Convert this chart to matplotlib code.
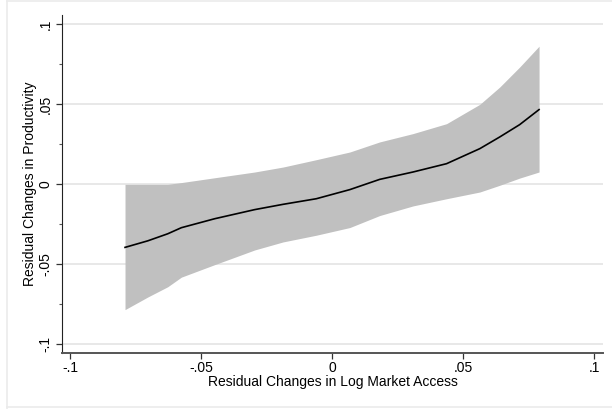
import matplotlib.pyplot as plt
from matplotlib.lines import Line2D
from matplotlib.ticker import MultipleLocator

plt.rcParams["font.family"] = ["Liberation Sans", "DejaVu Sans"]

# local linear fit of productivity on market access, with 95% band
x = [-0.079, -0.0703, -0.0627, -0.0575, -0.0448, -0.0295, -0.0187, -0.006,
     0.0068, 0.0182, 0.0309, 0.0437, 0.0564, 0.064, 0.0716, 0.079]
fit = [-0.0394, -0.0353, -0.0309, -0.0271, -0.0215, -0.0158, -0.0125, -0.009,
       -0.0033, 0.0031, 0.0077, 0.0129, 0.0223, 0.0296, 0.0373, 0.0467]
upper = [0.0, 0.0, 0.0, 0.0011, 0.0041, 0.0077, 0.0108, 0.0154,
         0.0202, 0.0265, 0.0317, 0.0379, 0.05, 0.0608, 0.0733, 0.0863]
lower = [-0.0783, -0.0704, -0.064, -0.058, -0.0502, -0.041, -0.036, -0.0318,
         -0.027, -0.0195, -0.0135, -0.009, -0.0048, -0.0006, 0.0039, 0.0077]

xticks = [-0.1, -0.05, 0, 0.05, 0.1]
xticklabels = ["-.1", "-.05", "0", ".05", ".1"]
yticks = [-0.1, -0.05, 0, 0.05, 0.1]
yticklabels = ["-.1", "-.05", "0", ".05", ".1"]

fig = plt.figure(figsize=(6.12, 4.09), dpi=100)
ax = fig.add_axes([0.1013, 0.1369, 0.884, 0.8264])

ax.fill_between(x, lower, upper, color="#c0c0c0", lw=0, zorder=2)
ax.plot(x, fit, color="black", lw=1.2, zorder=3)

ax.set_xlim(-0.10305, 0.1034)
ax.set_ylim(-0.1054, 0.1058)
ax.set_xticks(xticks)
ax.set_xticklabels(xticklabels)
ax.set_yticks(yticks)
ax.set_yticklabels(yticklabels, rotation=90, va="center")
ax.yaxis.set_minor_locator(MultipleLocator(0.025))

ax.grid(axis="y", color="#e8e8e8", lw=1.4, zorder=0)
ax.set_axisbelow(True)
for side in ("top", "right"):
    ax.spines[side].set_visible(False)
ax.spines["left"].set_color("#222222")
ax.spines["bottom"].set_color("#555555")
ax.spines["bottom"].set_linewidth(1.4)
ax.tick_params(axis="both", which="major", length=4, width=0.9,
               labelsize=10, pad=3, color="#333333")
ax.tick_params(axis="x", which="major", pad=2)
ax.tick_params(axis="y", which="minor", length=2.5, width=0.8, color="#555555")

ax.set_xlabel("Residual Changes in Log Market Access", fontsize=10, labelpad=0)
ax.set_ylabel("Residual Changes in Productivity", fontsize=10, labelpad=1)

# light outer frame of the graph region
for xs, ys in (([0.0114, 0.0114], [0.0, 0.998]), ([0.0114, 1.0], [0.998, 0.998]),
               ([0.0114, 1.0], [0.0049, 0.0049])):
    fig.add_artist(Line2D(xs, ys, transform=fig.transFigure, color="#ebebeb", lw=1.2))

fig.savefig("out.png", dpi=100, facecolor="white")
